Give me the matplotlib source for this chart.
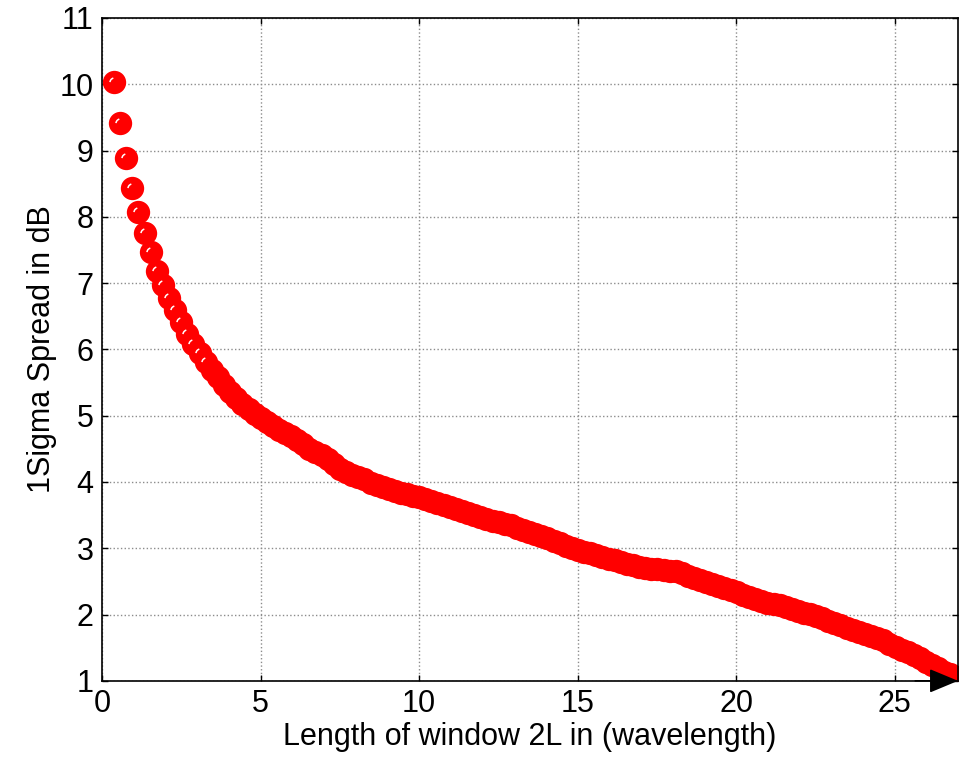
import matplotlib
matplotlib.use('Agg')
import matplotlib.pyplot as plt
from matplotlib.path import Path

plt.rcParams['font.family'] = ['Liberation Sans', 'DejaVu Sans']

# window length 2L (in wavelengths)
window_len = [
    0.38, 0.57, 0.77, 0.96, 1.15, 1.34, 1.54, 1.73, 1.92, 2.11,
    2.31, 2.50, 2.69, 2.88, 3.08, 3.27, 3.46, 3.65, 3.85, 4.04,
    4.23, 4.42, 4.62, 4.81, 5.00, 5.19, 5.39, 5.58, 5.77, 5.96,
    6.16, 6.35, 6.54, 6.73, 6.93, 7.12, 7.31, 7.50, 7.70, 7.89,
    8.08, 8.27, 8.47, 8.66, 8.85, 9.04, 9.24, 9.43, 9.62, 9.81,
    10.01, 10.20, 10.39, 10.58, 10.78, 10.97, 11.16, 11.35, 11.55, 11.74,
    11.93, 12.12, 12.32, 12.51, 12.70, 12.90, 13.09, 13.28, 13.47, 13.67,
    13.86, 14.05, 14.24, 14.44, 14.63, 14.82, 15.01, 15.21, 15.40, 15.59,
    15.78, 15.98, 16.17, 16.36, 16.55, 16.75, 16.94, 17.13, 17.32, 17.52,
    17.71, 17.90, 18.09, 18.29, 18.48, 18.67, 18.86, 19.06, 19.25, 19.44,
    19.63, 19.83, 20.02, 20.21, 20.40, 20.60, 20.79, 20.98, 21.18, 21.37,
    21.56, 21.75, 21.95, 22.14, 22.33, 22.52, 22.72, 22.91, 23.10, 23.29,
    23.49, 23.68, 23.87, 24.06, 24.26, 24.45, 24.64, 24.83, 25.03, 25.22,
    25.41, 25.60, 25.80, 25.99, 26.18, 26.37, 26.56, 26.76, 26.95,
]

# 1 sigma spread in dB
spread_db = [
    10.03, 9.41, 8.89, 8.44, 8.07, 7.75, 7.47, 7.19, 6.97, 6.77,
    6.59, 6.41, 6.24, 6.08, 5.94, 5.81, 5.69, 5.58, 5.46, 5.36,
    5.27, 5.18, 5.10, 5.03, 4.97, 4.91, 4.85, 4.79, 4.74, 4.69,
    4.64, 4.57, 4.50, 4.45, 4.40, 4.34, 4.27, 4.20, 4.15, 4.11,
    4.08, 4.04, 3.99, 3.96, 3.93, 3.90, 3.87, 3.84, 3.82, 3.79,
    3.77, 3.74, 3.71, 3.68, 3.65, 3.62, 3.59, 3.56, 3.53, 3.50,
    3.47, 3.44, 3.41, 3.39, 3.37, 3.35, 3.31, 3.28, 3.25, 3.22,
    3.19, 3.15, 3.11, 3.08, 3.04, 3.01, 2.98, 2.95, 2.93, 2.90,
    2.87, 2.84, 2.82, 2.79, 2.77, 2.75, 2.72, 2.70, 2.69, 2.68,
    2.67, 2.66, 2.65, 2.62, 2.58, 2.55, 2.52, 2.49, 2.46, 2.43,
    2.40, 2.37, 2.34, 2.30, 2.26, 2.23, 2.20, 2.18, 2.16, 2.14,
    2.11, 2.09, 2.06, 2.03, 2.01, 1.98, 1.95, 1.91, 1.87, 1.84,
    1.80, 1.77, 1.74, 1.71, 1.68, 1.65, 1.61, 1.56, 1.51, 1.47,
    1.43, 1.39, 1.34, 1.29, 1.24, 1.19, 1.14, 1.10, 1.06,
]

x_ticks = [0, 5, 10, 15, 20, 25]
y_ticks = [1, 2, 3, 4, 5, 6, 7, 8, 9, 10, 11]

fig = plt.figure(figsize=(9.59, 7.65), dpi=100)
ax = fig.add_axes([0.1064, 0.110, 0.8926, 0.8665])

# glossy highlight: small white arc on the upper-left of each marker
shine = Path.arc(105, 175)
n_shiny = 16  # further along the band the highlights are covered

for i, (x, y) in enumerate(zip(window_len, spread_db)):
    z = 3 + i * 0.01
    ax.plot([x], [y], 'o', color='red', markersize=16.8, markeredgewidth=0, zorder=z)
    if i < n_shiny:
        ax.plot([x], [y], marker=shine, color='white', markersize=6.5,
                markeredgewidth=1.1, fillstyle='none', linestyle='none',
                zorder=z + 0.005)

ax.set_xlim(0, 27)
ax.set_ylim(1, 11)
ax.set_xticks(x_ticks)
ax.set_yticks(y_ticks)
ax.grid(True, color='0.55', linestyle=':', linewidth=1.0)
ax.set_axisbelow(True)

ax.tick_params(direction='in', length=4, width=1, top=True, right=True,
               labelsize=22, pad=6)
for s in ax.spines.values():
    s.set_linewidth(1.2)
    s.set_zorder(10)

ax.set_xlabel('Length of window 2L in (wavelength)', fontsize=22, labelpad=2)
ax.set_ylabel('1Sigma Spread in dB', fontsize=22, labelpad=2)

# arrow head at the right end of the x axis
ax.annotate('', xy=(1.0, 0.0), xytext=(0.95, 0.0), xycoords='axes fraction',
            arrowprops=dict(arrowstyle='-|>,head_length=0.6,head_width=0.25',
                            color='black', lw=1.2, mutation_scale=30,
                            shrinkA=0, shrinkB=0),
            annotation_clip=False, zorder=11)

fig.savefig('out.png', dpi=100)
